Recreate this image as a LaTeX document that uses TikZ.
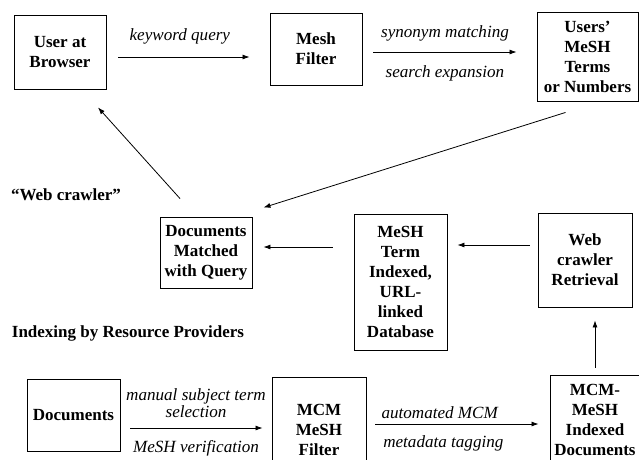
\documentclass[tikz,border=0pt]{standalone}
\usepackage{fontspec}
\setmainfont{Liberation Serif}
\usetikzlibrary{arrows.meta}
\begin{document}
\begin{tikzpicture}[x=1pt,y=-1pt,
		box/.style={draw,line width=0.9pt,align=center,inner sep=0pt,font=\fontsize{17}{20}\selectfont\bfseries},
		lbl/.style={font=\fontsize{17.1}{17}\selectfont\itshape,align=center,inner sep=1pt},
		title/.style={font=\fontsize{17}{20}\selectfont\bfseries,inner sep=0pt},
		flow/.style={-{Latex[length=7pt,width=5pt]},line width=0.8pt}]
		\clip (0,0) rectangle (639,459);
		% search side
		\node[box,minimum width=92pt,minimum height=74pt] (user) at (60,52) {User at\\Browser};
		\node[box,minimum width=92pt,minimum height=72pt] (mesh) at (316,49) {Mesh\\Filter};
		\node[box,minimum width=101pt,minimum height=89pt] (terms) at (587.5,56.5) {Users'\\MeSH\\Terms\\or Numbers};
		\node[box,minimum width=92pt,minimum height=71pt] (matched) at (206,252.5) {Documents\\Matched\\with Query};
		\node[box,minimum width=93pt,minimum height=136pt] (db) at (400.5,282) {MeSH\\Term\\Indexed,\\URL-\\linked\\Database};
		\node[box,minimum width=94pt,minimum height=94pt] (crawler) at (585,260) {Web\\crawler\\Retrieval};
		% indexing side
		\node[box,minimum width=93pt,minimum height=72pt] (docs) at (73.5,415) {Documents};
		\node[box,minimum width=94pt,minimum height=106pt] (filter) at (319,430) {MCM\\MeSH\\Filter};
		\node[box,minimum width=90pt,minimum height=90pt] (indexed) at (595,420) {MCM-\\MeSH\\Indexed\\Documents};
		\node[title] (crawltitle) at (66,195) {“Web crawler”};
		\node[title] (indextitle) at (128,333) {Indexing by Resource Providers};
		\draw[flow,shorten <=12pt,shorten >=20pt] (user.east |- 0,57) -- node[lbl,pos=.45,above=11pt] {keyword query} (mesh.west |- 0,57);
		\draw[flow,shorten <=11pt,shorten >=20pt] (mesh.east |- 0,52) -- node[lbl,pos=.474,above=9pt] {synonym matching} node[lbl,pos=.474,below=12pt] {search expansion} (terms.west |- 0,52);
		\draw[flow] ([shift={(-22,11)}]terms.south) -- ([shift={(11,-9)}]matched.north east);
		\draw[flow] ([shift={(-26,-18)}]matched.north) -- ([shift={(38,18)}]user.south);
		\draw[flow,shorten <=21pt,shorten >=11pt] (db.west |- 0,247) -- (matched.east |- 0,247);
		\draw[flow,shorten <=8pt,shorten >=10pt] (crawler.west |- 0,245) -- (db.east |- 0,245);
		\draw[flow,shorten <=7pt,shorten >=13pt] (indexed.north) -- (crawler.south -| indexed.north);
		\draw[flow,shorten <=10pt,shorten >=9pt] (docs.east |- 0,428) -- node[lbl,above=9pt] {manual subject term\\selection} node[lbl,below=11pt] {MeSH verification} (filter.west |- 0,428);
		\draw[flow,shorten <=9pt,shorten >=11pt] (filter.east |- 0,424) -- node[lbl,pos=.4,above=4pt] {automated MCM} node[lbl,pos=.42,below=10pt] {metadata tagging} (indexed.west |- 0,424);
	\end{tikzpicture}
\end{document}
